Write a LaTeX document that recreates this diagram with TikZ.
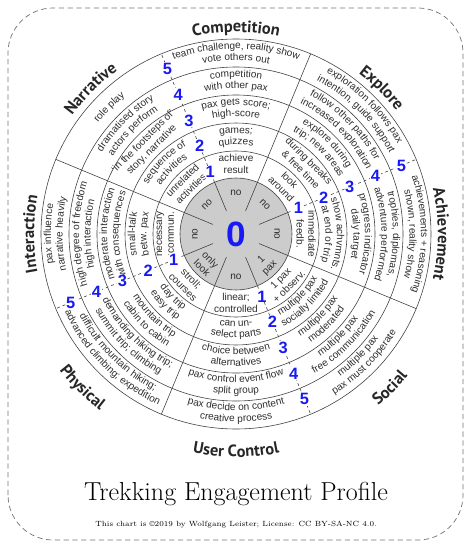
\documentclass[tikz,border=0pt]{standalone}
\usepackage{fontspec}
\setsansfont{Liberation Sans}
\newfontfamily\catfont{PT Sans}
\usetikzlibrary{decorations.text}
\definecolor{ringtext}{RGB}{45,45,45}
\definecolor{numblue}{RGB}{25,25,245}
\definecolor{diskgray}{RGB}{204,204,204}
\tikzset{
  ringline/.style  = {draw=black!75, line width=0.5pt},
  numline/.style   = {draw=black!75, line width=0.5pt, dash pattern=on 2.5pt off 2.5pt},
  ringlabel/.style = {inner sep=0pt, align=center, text=ringtext,
                      font=\sffamily\fontsize{8.6}{10}\selectfont},
  numlabel/.style  = {fill=white, inner sep=0.4pt, text=numblue,
                      font=\sffamily\bfseries\fontsize{14}{14}\selectfont},
  frame/.style     = {draw=black!55, line width=0.6pt, dash pattern=on 4.5pt off 3pt,
                      rounded corners=1.35cm}
}
% ring texts as nodes: name, angle, radius, text
\newcommand{\upring}[4]{\node[ringlabel, rotate=#2-90] (#1) at (#2:#3) {#4};}
\newcommand{\lowring}[4]{\node[ringlabel, rotate=#2+90] (#1) at (#2:#3) {#4};}
% ring texts bent on the arc: angle, baseline radius, text
\newcommand{\cwtext}[3]{%
  \path[decorate, decoration={text along path, text align=center,
      text={|\color{ringtext}\sffamily\fontsize{8.6}{10}\selectfont|#3}}]
    ({#1+45}:{#2}) arc[start angle={#1+45}, end angle={#1-45}, radius={#2}];}
\newcommand{\ccwtext}[3]{%
  \path[decorate, decoration={text along path, text align=center,
      text={|\color{ringtext}\sffamily\fontsize{8.6}{10}\selectfont|#3}}]
    ({#1-45}:{#2}) arc[start angle={#1-45}, end angle={#1+45}, radius={#2}];}
\newcommand{\upcurve}[4]{\cwtext{#1}{#2+4}{#3}\cwtext{#1}{#2-7.5}{#4}}
\newcommand{\lowcurve}[4]{\ccwtext{#1}{#2-4.5}{#3}\ccwtext{#1}{#2+7}{#4}}
% category names
\newcommand{\cwcat}[2]{%
  \path[decorate, decoration={text along path, text align=center,
      text={|\color{black!85}\catfont\bfseries\fontsize{14}{16}\selectfont|#2}}]
    ({#1+40}:202) arc[start angle={#1+40}, end angle={#1-40}, radius=202];}
\newcommand{\ccwcat}[2]{%
  \path[decorate, decoration={text along path, text align=center,
      text={|\color{black!85}\catfont\bfseries\fontsize{14}{16}\selectfont|#2}}]
    ({#1-40}:223) arc[start angle={#1-40}, end angle={#1+40}, radius=223];}

\begin{document}
\begin{tikzpicture}[scale=0.03]
  \useasboundingbox (-236,-317) rectangle (235,234);
  \draw[frame] (-228,-306) rectangle (227,226);

  % disk and rings
  \fill[diskgray] (0,0) circle[radius=56];
  \draw[ringline] (0,0) circle[radius=56];
  \draw[ringline] (0,0) circle[radius=83];
  \draw[ringline] (0,0) circle[radius=111];
  \draw[ringline] (0,0) circle[radius=139];
  \draw[ringline] (0,0) circle[radius=167];
  \draw[ringline] (0,0) circle[radius=195];

  % sector borders
  \foreach \a in {67.5,-22.5,-112.5,157.5}
    \draw[ringline] (\a:25) -- (\a:195);
  \foreach \a in {112.5,22.5,-67.5,-157.5}{
    \draw[ringline] (\a:25) -- (\a:56);
    \draw[numline] (\a:56) -- (\a:195);
  }

  % Competition
  \upring{comp1}{90}{70}{achieve\\result}
  \upcurve{90}{97}{games;}{quizzes}
  \upcurve{90}{125}{pax gets score;}{high-score}
  \upcurve{90}{153}{competition}{with other pax}
  \upcurve{90}{181}{team challenge, reality show}{vote others out}
  % Explore
  \upring{expl1}{45}{70}{look\\around}
  \upring{expl2}{45}{97.5}{during breaks\\\& free time}
  \upcurve{45}{125}{explore during}{trip; new areas}
  \upcurve{45}{153}{follow other paths for}{increased exploration}
  \upcurve{45}{181}{exploration follows pax}{intention, guide support}
  % Achievement
  \upring{achi1}{0}{70}{immediate\\feedb.}
  \upcurve{0}{97}{show achvmnts.}{at end of trip}
  \upcurve{0}{125}{progress indicator}{daily target}
  \upcurve{0}{153}{trophies, diplomas,}{adventure performed}
  \upcurve{0}{181}{achievements + reasoning}{shown, reality show}
  % Social
  \lowring{soci1}{-45}{69}{1 pax\\+ observ.}
  \lowcurve{-45}{97}{multiple pax}{socially limited}
  \lowcurve{-45}{125}{multiple pax}{moderated}
  \lowcurve{-45}{153}{multiple pax}{free communication}
  \lowcurve{-45}{181}{multiple pax}{pax must cooperate}
  % User Control
  \lowring{user1}{-90}{69}{linear;\\controlled}
  \lowcurve{-90}{97}{can un-}{select parts}
  \lowcurve{-90}{125}{choice between}{alternatives}
  \lowcurve{-90}{153}{pax control event flow}{split group}
  \lowcurve{-90}{181}{pax decide on content}{creative process}
  % Physical
  \lowring{phys1}{-135}{69}{stroll;\\courses}
  \lowcurve{-135}{97}{day trip}{easy trip}
  \lowcurve{-135}{125}{mountain trip}{cabin to cabin}
  \lowcurve{-135}{153}{demanding hiking trip;}{summit trip; climbing}
  \lowcurve{-135}{181}{difficult mountain hiking;}{advanced climbing; expedition}
  % Interaction
  \upring{inte1}{180}{70}{necessary\\;commun.}
  \upcurve{180}{97}{small-talk}{betw. pax}
  \upcurve{180}{125}{moderate interaction}{with consequences}
  \upcurve{180}{153}{high degree of freedom}{high interaction}
  \upcurve{180}{181}{pax influence}{narrative heavily}
  % Narrative
  \upring{narr1}{135}{70}{unrelated\\activities}
  \upcurve{135}{97}{sequence of}{activities}
  \upring{narr3}{135}{125}{‘in the footsteps of’\\story, narrative}
  \upcurve{135}{153}{dramatised story}{actors perform}
  \cwtext{135}{177}{role play}

  % level 0
  \upring{comp0}{90}{41}{no}
  \upring{expl0}{45}{41}{no}
  \upring{achi0}{0}{41}{no}
  \lowring{soci0}{-45}{42}{1\\pax}
  \lowring{user0}{-90}{43}{no}
  \lowring{phys0}{-135}{42}{only\\look}
  \upring{inte0}{180}{41}{no}
  \upring{narr0}{135}{41}{no}
  \node[text=numblue, font=\sffamily\bfseries\fontsize{30}{30}\selectfont] (zero) at (0,0) {0};

  % level numbers
  \foreach \a/\s in {112.5/nw,22.5/ne,-67.5/se,-157.5/sw}
    \foreach \k/\r in {1/67.5,2/95,3/123,4/151,5/179}
      \node[numlabel] (\s\k) at (\a:\r) {\k};

  % category names
  \cwcat{90}{Competition}
  \cwcat{45}{Explore}
  \cwcat{0}{Achievement}
  \ccwcat{-45}{Social}
  \ccwcat{-90}{User Control}
  \ccwcat{-135}{Physical}
  \cwcat{180}{Interaction}
  \cwcat{135}{Narrative}

  \node[anchor=base, font=\fontsize{22.2}{26}\selectfont] (title) at (0,-266)
    {Trekking Engagement Profile};
  \node[anchor=base, font=\fontsize{6.4}{8}\selectfont] (credit) at (0,-292)
    {This chart is \textcopyright2019 by Wolfgang Leister; License: CC BY-SA-NC 4.0.};
\end{tikzpicture}
\end{document}
